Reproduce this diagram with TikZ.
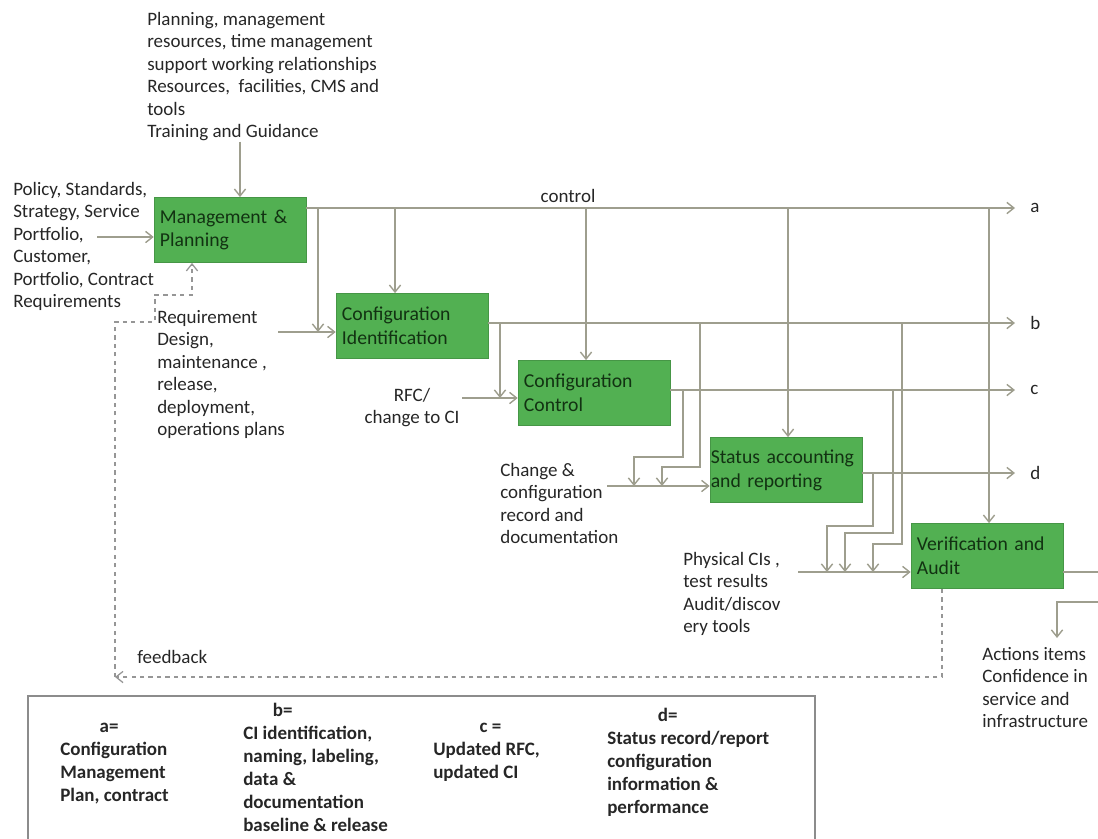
\documentclass[tikz,border=0pt]{standalone}
\usepackage{fontspec}
\setmainfont{Carlito}
\usetikzlibrary{arrows.meta, positioning}
\definecolor{boxgreen}{RGB}{82,176,82}
\definecolor{boxtext}{RGB}{18,50,18}
\definecolor{wirecol}{RGB}{158,158,142}
\definecolor{fbcol}{RGB}{150,150,150}
\tikzset{process/.style={draw=boxgreen!85!black,fill=boxgreen,text=boxtext,minimum width=3.8cm,minimum height=1.63cm,text width=3.5cm,inner xsep=0.15cm,inner ysep=0pt,align=left,font=\fontsize{14}{17}\selectfont},
         wire/.style={draw=wirecol,line width=1pt},
         fb/.style={draw=fbcol,line width=0.9pt,dashed},
         note/.style={inner sep=0pt,align=left,text=black!85,font=\fontsize{13.5}{16}\selectfont},
         key/.style={inner sep=0pt,align=left,text=black!85,font=\fontsize{13.5}{16.4}\selectfont\bfseries},
         >={Straight Barb[length=5pt,width=8pt]}}

\begin{document}
\begin{tikzpicture}[x=0.025cm,y=-0.025cm]
        \useasboundingbox (0,0) rectangle (1098,838);

        % process boxes
        \node[process](mp)at(230,230){Management \&\\Planning};
        \node[process](ci)at(412,326){Configuration\\Identification};
        \node[process](cc)at(594,393){Configuration\\Control};
        \node[process, text width=3.76cm, inner xsep=0.02cm](sa)at(786,470){Status accounting\\and reporting};
        \node[process](va)at(987,556){Verification and\\Audit};

        % inputs
        \node[note, anchor=north west](needs)at(147,12){Planning, management\\resources, time management\\support working relationships\\Resources,\ \ facilities, CMS and\\tools\\Training and Guidance};
        \node[note, anchor=north west](policy)at(13,182){Policy, Standards,\\Strategy, Service\\Portfolio,\\Customer,\\Portfolio, Contract\\Requirements};
        \node[note, anchor=north west](req)at(157,310){Requirement\\Design,\\maintenance ,\\release,\\deployment,\\operations plans};
        \node[note, align=center, anchor=north](rfc)at(412,388){RFC/\\change to CI};
        \node[note, anchor=north west](chg)at(500,463){Change \&\\configuration\\record and\\documentation};
        \node[note, anchor=north west](phys)at(683,552){Physical CIs ,\\test results\\Audit/discov\\ery tools};
        \node[note, anchor=north west](act)at(982,647){Actions items\\Confidence in\\service and\\infrastructure};
        \node[note](ctl)at(568,196){control};
        \node[note, anchor=west](fbl)at(137,657){feedback};

        \node[note, anchor=west](la)at(1030,208){a};
        \node[note, anchor=west](lb)at(1030,323){b};
        \node[note, anchor=west](lc)at(1030,390){c};
        \node[note, anchor=west](ld)at(1030,473){d};

        \coordinate(polin)at(97,237);
        \coordinate(ciin)at(278,332);
        \coordinate(ccin)at(462,398);
        \coordinate(sain)at(607,486);
        \coordinate(vain)at(798,572);

        \draw[wire,->](needs.south -| 240,0)--(mp.north -| 240,0);
        \draw[wire,->](polin)--(mp.west |- polin);
        \draw[wire,->](ciin)--(ci.west |- ciin);
        \draw[wire,->](ccin)--(cc.west |- ccin);
        \draw[wire,->](sain)--(sa.west |- sain);
        \draw[wire,->](vain)--(va.west |- vain);

        % outputs a, b, c, d
        \coordinate(aend)at(1015,208);
        \coordinate(bend)at(1015,323);
        \coordinate(cend)at(1015,390);
        \coordinate(dend)at(1015,473);
        \draw[wire,->](mp.east |- aend)--(aend);
        \draw[wire,->](ci.east |- bend)--(bend);
        \draw[wire,->](cc.east |- cend)--(cend);
        \draw[wire,->](sa.east |- dend)--(dend);

        % control taps
        \coordinate(ta1)at(318,208);
        \coordinate(ta2)at(395,208);
        \coordinate(ta3)at(586,208);
        \coordinate(ta4)at(788,208);
        \coordinate(ta5)at(989,208);
        \draw[wire,->](ta1)--(ta1 |- ciin);
        \foreach \t/\n in {ta2/ci,ta3/cc,ta4/sa,ta5/va}
            \draw[wire,->](\t)--(\t |- \n.north);

        % b, c, d taps
        \coordinate(tb1)at(500,323);
        \coordinate(tb2)at(700,323);
        \coordinate(tb3)at(902,323);
        \coordinate(tc1)at(683,390);
        \coordinate(tc2)at(893,390);
        \coordinate(td1)at(873,473);
        \draw[wire,->](tb1)--(tb1 |- ccin);
        \draw[wire,->](tb2)--(700,467)--(662,467)--(662,0 |- sain);
        \draw[wire,->](tc1)--(683,457)--(634,457)--(634,0 |- sain);
        \draw[wire,->](td1)--(873,526)--(827,526)--(827,0 |- vain);
        \draw[wire,->](tc2)--(893,533)--(845,533)--(845,0 |- vain);
        \draw[wire,->](tb3)--(902,544)--(873,544)--(873,0 |- vain);

        % audit result
        \draw[wire,->](va.east |- vain)--(1110,572)--(1110,602)--(1057,602)--(1057,638);

        % feedback
        \coordinate(fb1)at(942,677);
        \coordinate(fb2)at(115,677);
        \draw[fb,->](va.south -| fb1)--(fb1)--(fb2);
        \draw[fb,->](fb2)--(115,322)--(155,322)--(155,295)--(192,295)--(mp.south -| 192,0);

        % legend
        \draw[draw=black!45, line width=1.2pt](28,696) rectangle (815,860);
        \node[key, anchor=north west](ka)at(60,723){\hspace*{28pt}a=\\Configuration\\Management\\Plan, contract};
        \node[key, anchor=north west](kb)at(243,703){\hspace*{21pt}b=\\CI identification,\\naming, labeling,\\data \&\\documentation\\baseline \& release};
        \node[key, anchor=north west](kc)at(433,723){\hspace*{33pt}c =\\Updated RFC,\\updated CI};
        \node[key, anchor=north west](kd)at(607,708){\hspace*{36pt}d=\\Status record/report\\configuration\\information \&\\performance};
\end{tikzpicture}
\end{document}
